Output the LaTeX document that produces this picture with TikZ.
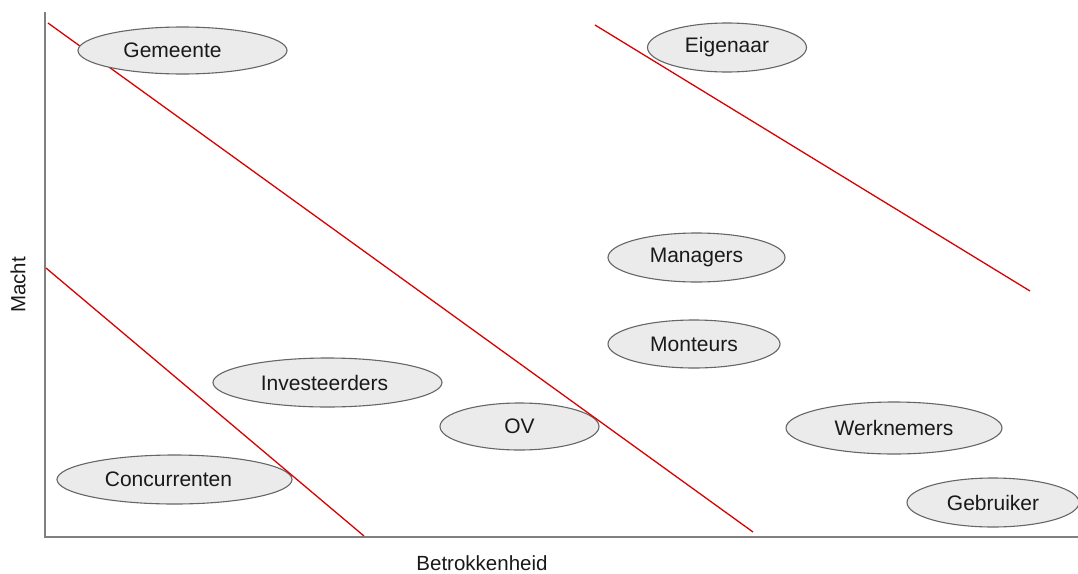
\documentclass[tikz,border=0pt]{standalone}
\usepackage{fontspec}
\setmainfont{Liberation Sans}
\usetikzlibrary{shapes.geometric}
\begin{document}
\begin{tikzpicture}[x=1pt,y=-1pt,
  party/.style={ellipse, draw=black!60, fill=black!8, line width=1.1pt,
    inner sep=0pt, font=\fontsize{21}{24}\selectfont, text=black!90},
  axis/.style={draw=black!50, line width=1.8pt},
  band/.style={draw=red!85!black, line width=1.3pt},
  axislabel/.style={font=\fontsize{20.5}{24}\selectfont, text=black!90, inner sep=0pt}]
\useasboundingbox (0,0) rectangle (1078,573);

% axes
\coordinate (top) at (45,12);
\coordinate (origin) at (45,537);
\coordinate (right) at (1078,537);
\draw[axis] (top) -- (origin) -- (right);
\node[axislabel, rotate=90] (macht) at (18,285) {Macht};
\node[axislabel] (betr) at (482,563) {Betrokkenheid};

% stakeholders that the boundary lines pass over
\node[party, minimum width=159pt, minimum height=47pt] (ov) at (519.5,426.5) {OV};
\node[party, minimum width=235pt, minimum height=49pt] (conc) at (174.5,479.5) {\hspace*{-12pt}Concurrenten};

% boundary lines
\coordinate (a1) at (48,23);   \coordinate (a2) at (753,532);
\coordinate (b1) at (595,25);  \coordinate (b2) at (1030,291);
\coordinate (c1) at (46,268);  \coordinate (c2) at (364,536);
\draw[band] (a1) -- (a2);
\draw[band] (b1) -- (b2);
\draw[band] (c1) -- (c2);

% remaining stakeholders
\node[party, minimum width=209pt, minimum height=47pt] (gem) at (182.5,50.5) {\hspace*{-20pt}Gemeente};
\node[party, minimum width=159pt, minimum height=49pt] (eig) at (727,47.5) {Eigenaar};
\node[party, minimum width=177pt, minimum height=49pt] (man) at (696.5,257.5) {Managers};
\node[party, minimum width=172pt, minimum height=48pt] (mon) at (694,344) {Monteurs};
\node[party, minimum width=229pt, minimum height=49pt] (inv) at (327.5,382.5) {\hspace*{-6pt}Investeerders};
\node[party, minimum width=216pt, minimum height=52pt] (wer) at (894,428) {Werknemers};
\node[party, minimum width=172pt, minimum height=49pt] (geb) at (993,502.5) {Gebruiker};
\end{tikzpicture}
\end{document}
